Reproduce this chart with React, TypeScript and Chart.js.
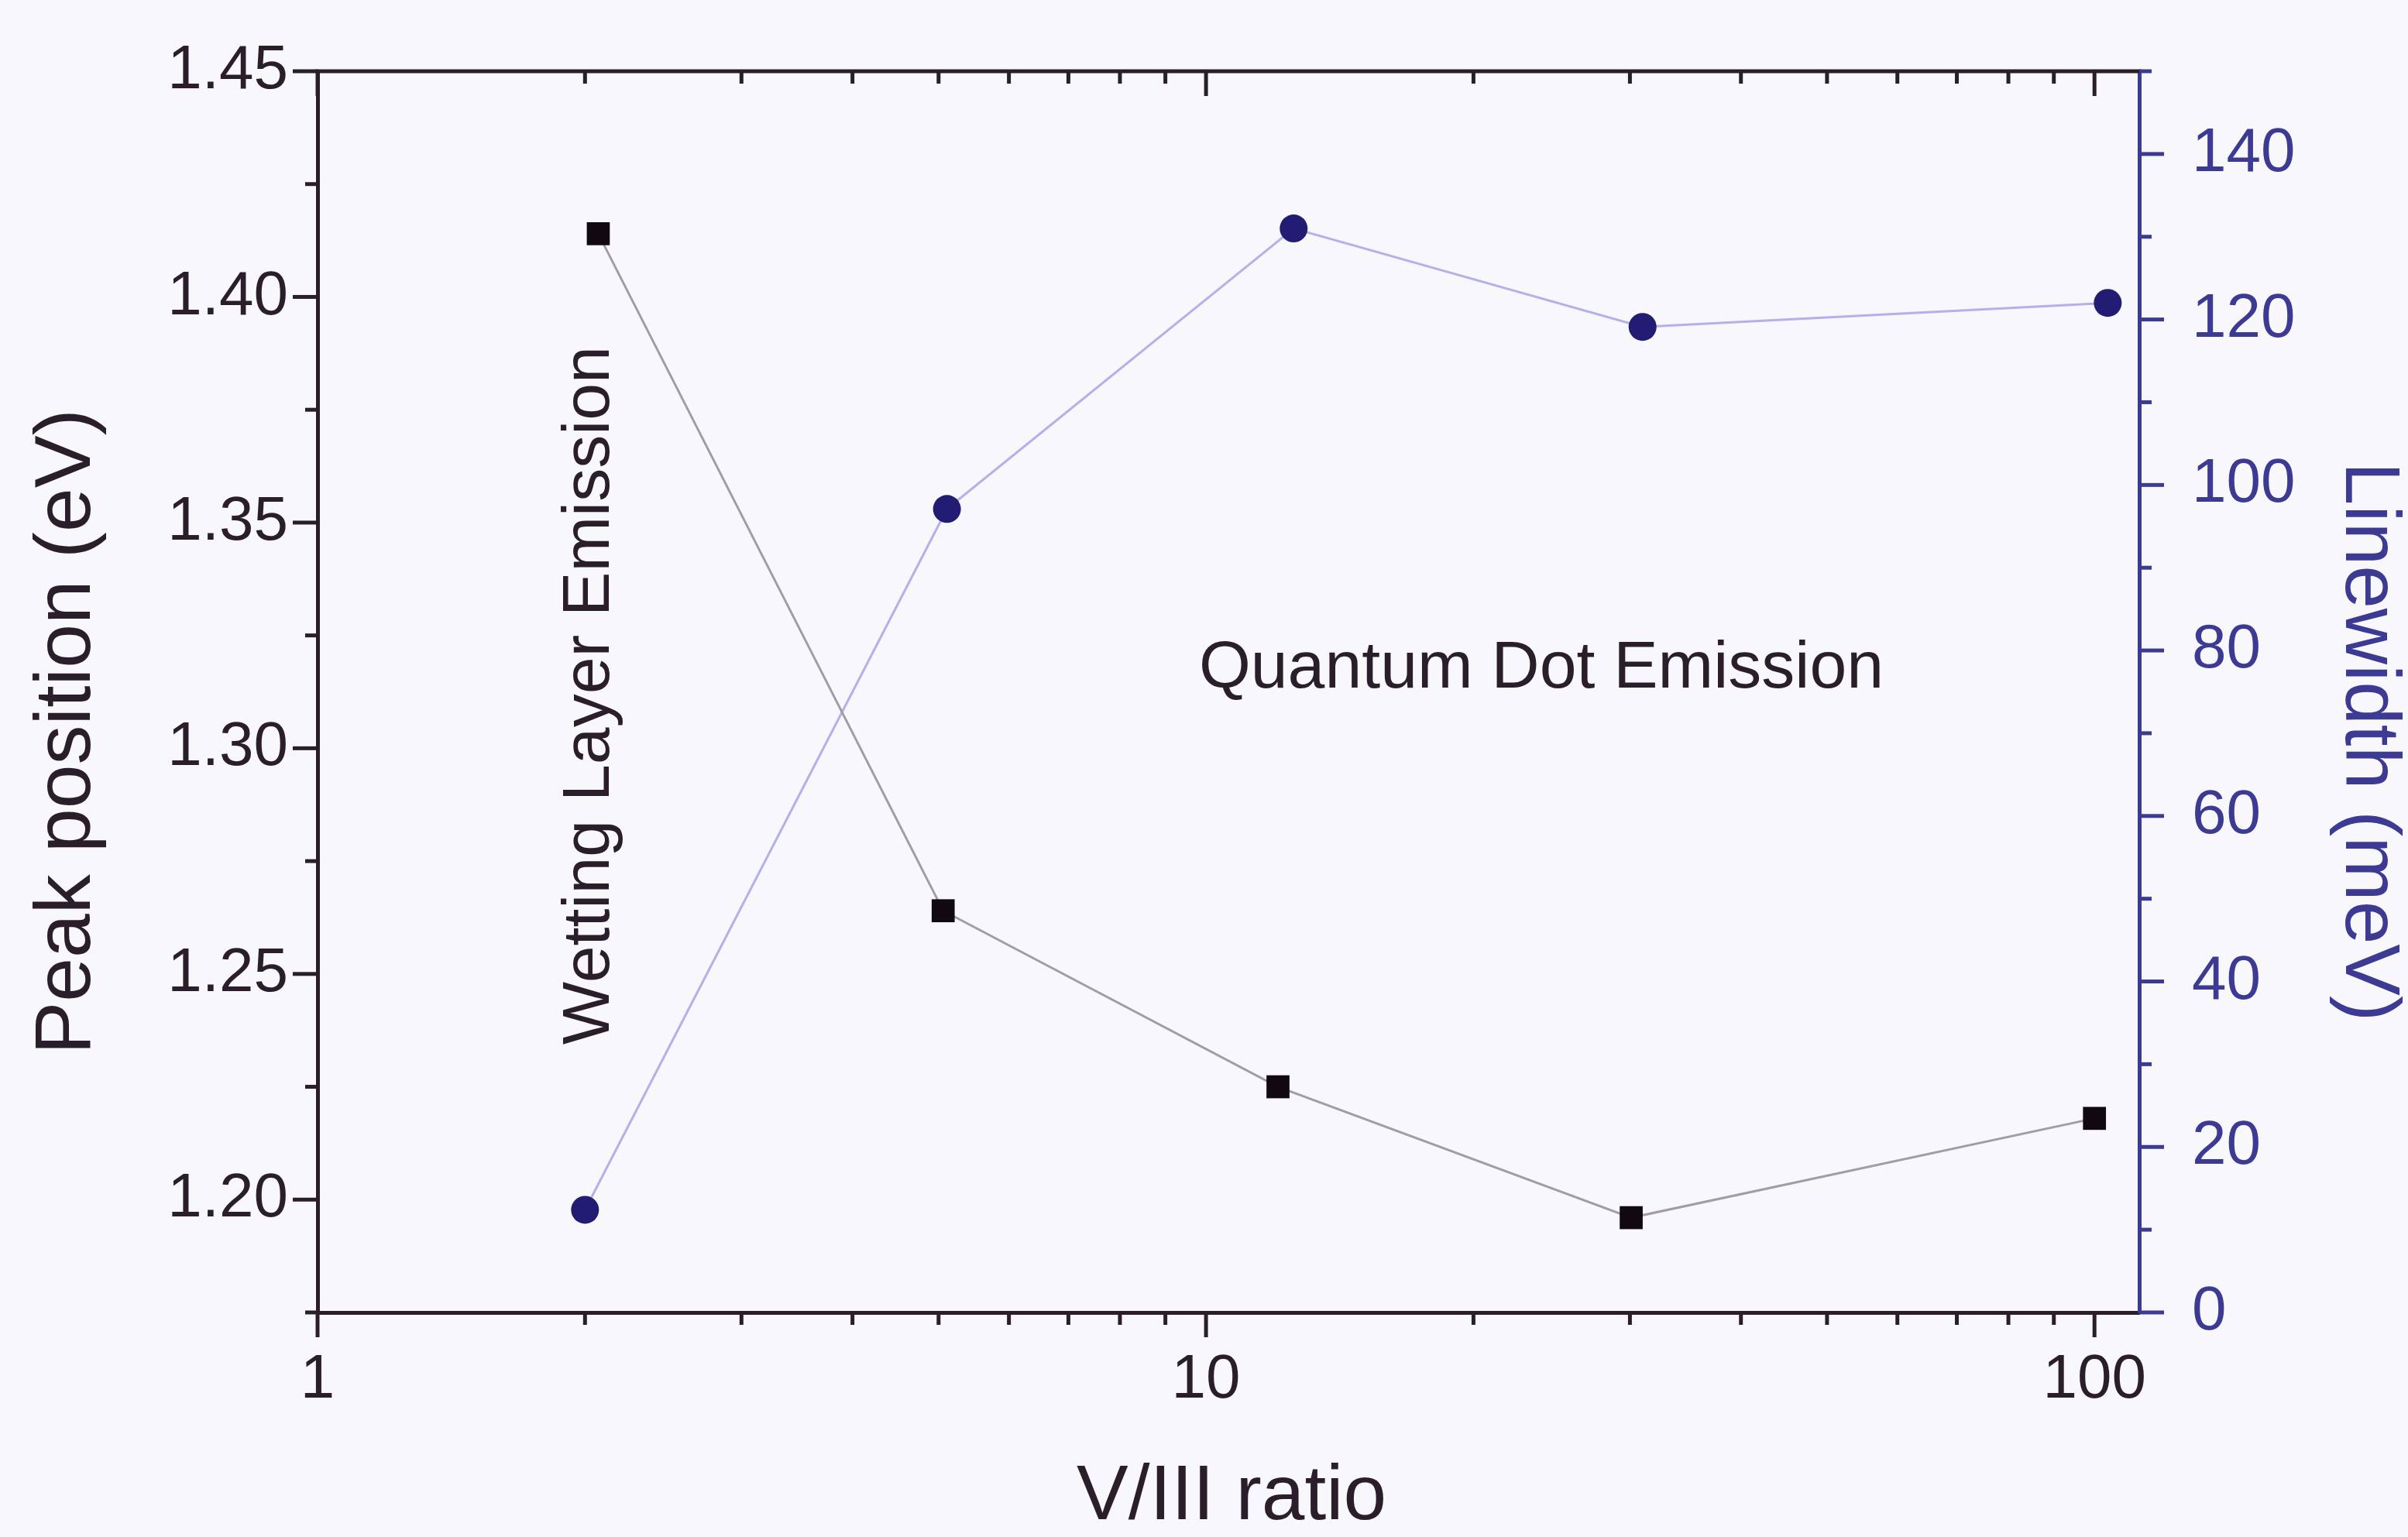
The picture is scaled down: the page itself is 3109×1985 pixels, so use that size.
import { useEffect, useRef } from "react";
import { Chart, registerables } from "chart.js";

Chart.register(...registerables);

// V/III ratio at which each sample was measured
const ratioPeak = [2.07, 5.06, 12.05, 30.1, 100];
const peakPosition = [1.414, 1.264, 1.225, 1.196, 1.218];

const ratioWidth = [2.0, 5.11, 12.55, 31.0, 103.5];
const linewidth = [12.4, 97.1, 131.0, 119.1, 122.0];

// axis ticks
const xMajorTicks = [1, 10, 100];
const xMinorTicks = [2, 3, 4, 5, 6, 7, 8, 9, 20, 30, 40, 50, 60, 70, 80, 90];
const peakMajorTicks = [1.2, 1.25, 1.3, 1.35, 1.4, 1.45];
const peakMinorTicks = [1.175, 1.225, 1.275, 1.325, 1.375, 1.425];
const widthMajorTicks = [0, 20, 40, 60, 80, 100, 120, 140];
const widthMinorTicks = [10, 30, 50, 70, 90, 110, 130, 150];

const W = 3109;
const H = 1985;
const FONT = "'Liberation Sans', Arial, sans-serif";
const DARK = "#2b1e2b";
const BLUE = "#3d3a94";
const BG = "#f8f8fc";

const noPadding = (s: any) => {
  s.paddingTop = 0;
  s.paddingBottom = 0;
  s.paddingLeft = 0;
  s.paddingRight = 0;
};

const framePlugin = {
  id: "frame",
  beforeDraw(chart: any) {
    const ctx = chart.ctx;
    ctx.save();
    ctx.fillStyle = BG;
    ctx.fillRect(0, 0, chart.width, chart.height);
    ctx.restore();
  },
  afterDraw(chart: any) {
    const ctx = chart.ctx;
    const { left, right, top, bottom } = chart.chartArea;
    const x = chart.scales.x;
    const y = chart.scales.y;
    const y1 = chart.scales.y1;
    const major = 32;
    const minor = 16;
    ctx.save();
    ctx.lineWidth = 5;
    ctx.lineCap = "butt";

    // top frame line
    ctx.strokeStyle = DARK;
    ctx.beginPath();
    ctx.moveTo(left - 2.5, top);
    ctx.lineTo(right + 2.5, top);
    ctx.stroke();

    const seg = (x0: number, y0: number, x1: number, y1v: number) => {
      ctx.beginPath();
      ctx.moveTo(x0, y0);
      ctx.lineTo(x1, y1v);
      ctx.stroke();
    };

    // V/III ratio ticks: outward at the bottom, inward at the top
    ctx.strokeStyle = DARK;
    xMajorTicks.forEach((v) => {
      const px = x.getPixelForValue(v);
      seg(px, bottom, px, bottom + major);
      seg(px, top, px, top + major);
    });
    xMinorTicks.forEach((v) => {
      const px = x.getPixelForValue(v);
      seg(px, bottom, px, bottom + minor);
      seg(px, top, px, top + minor);
    });

    // peak position ticks
    peakMajorTicks.forEach((v) => {
      const py = y.getPixelForValue(v);
      seg(left - major, py, left, py);
    });
    peakMinorTicks.forEach((v) => {
      const py = y.getPixelForValue(v);
      seg(left - minor, py, left, py);
    });

    // linewidth ticks
    ctx.strokeStyle = BLUE;
    widthMajorTicks.forEach((v) => {
      const py = y1.getPixelForValue(v);
      seg(right, py, right + major, py);
    });
    widthMinorTicks.forEach((v) => {
      const py = y1.getPixelForValue(v);
      seg(right, py, right + minor, py);
    });

    const text = (
      s: string,
      cx: number,
      cy: number,
      size: number,
      color: string,
      rot: number
    ) => {
      ctx.save();
      ctx.translate(cx, cy);
      ctx.rotate(rot);
      ctx.font = `${size}px ${FONT}`;
      ctx.fillStyle = color;
      ctx.textAlign = "center";
      ctx.textBaseline = "middle";
      ctx.fillText(s, 0, 0);
      ctx.restore();
    };

    text("Peak position (eV)", 88, 945, 102, DARK, -Math.PI / 2);
    text("Linewidth (meV)", 3057, 958, 100, BLUE, Math.PI / 2);
    text("V/III ratio", 1590, 1934, 100, DARK, 0);
    text("Quantum Dot Emission", 1990, 864, 86, DARK, 0);
    text("Wetting Layer Emission", 762, 898, 86, DARK, -Math.PI / 2);

    ctx.restore();
  },
};

export default function App() {
  const canvasRef = useRef<HTMLCanvasElement | null>(null);

  useEffect(() => {
    document.body.style.margin = "0";
    document.body.style.background = BG;
    const canvas = canvasRef.current;
    if (!canvas) return;

    const chart = new Chart(canvas, {
      type: "scatter",
      data: {
        datasets: [
          {
            label: "Peak position",
            data: ratioPeak.map((v, i) => ({ x: v, y: peakPosition[i] })),
            yAxisID: "y",
            showLine: true,
            borderColor: "#a39ca8",
            borderWidth: 3,
            pointStyle: "rect",
            pointRadius: 21,
            pointBackgroundColor: "#120812",
            pointBorderColor: "#120812",
            pointBorderWidth: 0,
          },
          {
            label: "Linewidth",
            data: ratioWidth.map((v, i) => ({ x: v, y: linewidth[i] })),
            yAxisID: "y1",
            showLine: true,
            borderColor: "#b3b0ea",
            borderWidth: 3,
            pointStyle: "circle",
            pointRadius: 18,
            pointBackgroundColor: "#221d72",
            pointBorderColor: "#221d72",
            pointBorderWidth: 0,
          },
        ],
      },
      options: {
        responsive: false,
        animation: false,
        devicePixelRatio: 1,
        layout: { padding: { top: 92, left: 0, right: 0, bottom: 0 } },
        plugins: {
          legend: { display: false },
          tooltip: { enabled: false },
        },
        scales: {
          x: {
            type: "logarithmic",
            position: "bottom",
            min: 1,
            max: 112.3,
            afterBuildTicks: (s: any) => {
              s.ticks = xMajorTicks.map((v) => ({ value: v }));
            },
            afterFit: (s: any) => {
              s.height = H - 1695;
              noPadding(s);
            },
            grid: { display: false, drawTicks: false },
            border: { display: true, color: DARK, width: 5 },
            ticks: {
              autoSkip: false,
              maxRotation: 0,
              padding: 40,
              color: DARK,
              font: { family: FONT, size: 80 },
              callback: (v: any) => String(v),
            },
          },
          y: {
            type: "linear",
            position: "left",
            min: 1.175,
            max: 1.45,
            afterBuildTicks: (s: any) => {
              s.ticks = peakMajorTicks.map((v) => ({ value: v }));
            },
            afterFit: (s: any) => {
              s.width = 410;
              noPadding(s);
            },
            grid: { display: false, drawTicks: false },
            border: { display: true, color: DARK, width: 5 },
            ticks: {
              padding: 38,
              color: DARK,
              font: { family: FONT, size: 80 },
              callback: (v: any) => Number(v).toFixed(2),
            },
          },
          y1: {
            type: "linear",
            position: "right",
            min: 0,
            max: 150,
            afterBuildTicks: (s: any) => {
              s.ticks = widthMajorTicks.map((v) => ({ value: v }));
            },
            afterFit: (s: any) => {
              s.width = W - 2762;
              noPadding(s);
            },
            grid: { display: false, drawTicks: false },
            border: { display: true, color: BLUE, width: 5 },
            ticks: {
              padding: 68,
              color: BLUE,
              font: { family: FONT, size: 80 },
              callback: (v: any) => String(v),
            },
          },
        },
      },
      plugins: [framePlugin],
    } as any);

    return () => chart.destroy();
  }, []);

  return (
    <div
      style={{
        position: "fixed",
        left: 0,
        top: 0,
        width: W,
        height: H,
        overflow: "hidden",
        background: BG,
      }}
    >
      <canvas ref={canvasRef} width={W} height={H} style={{ display: "block" }} />
    </div>
  );
}
